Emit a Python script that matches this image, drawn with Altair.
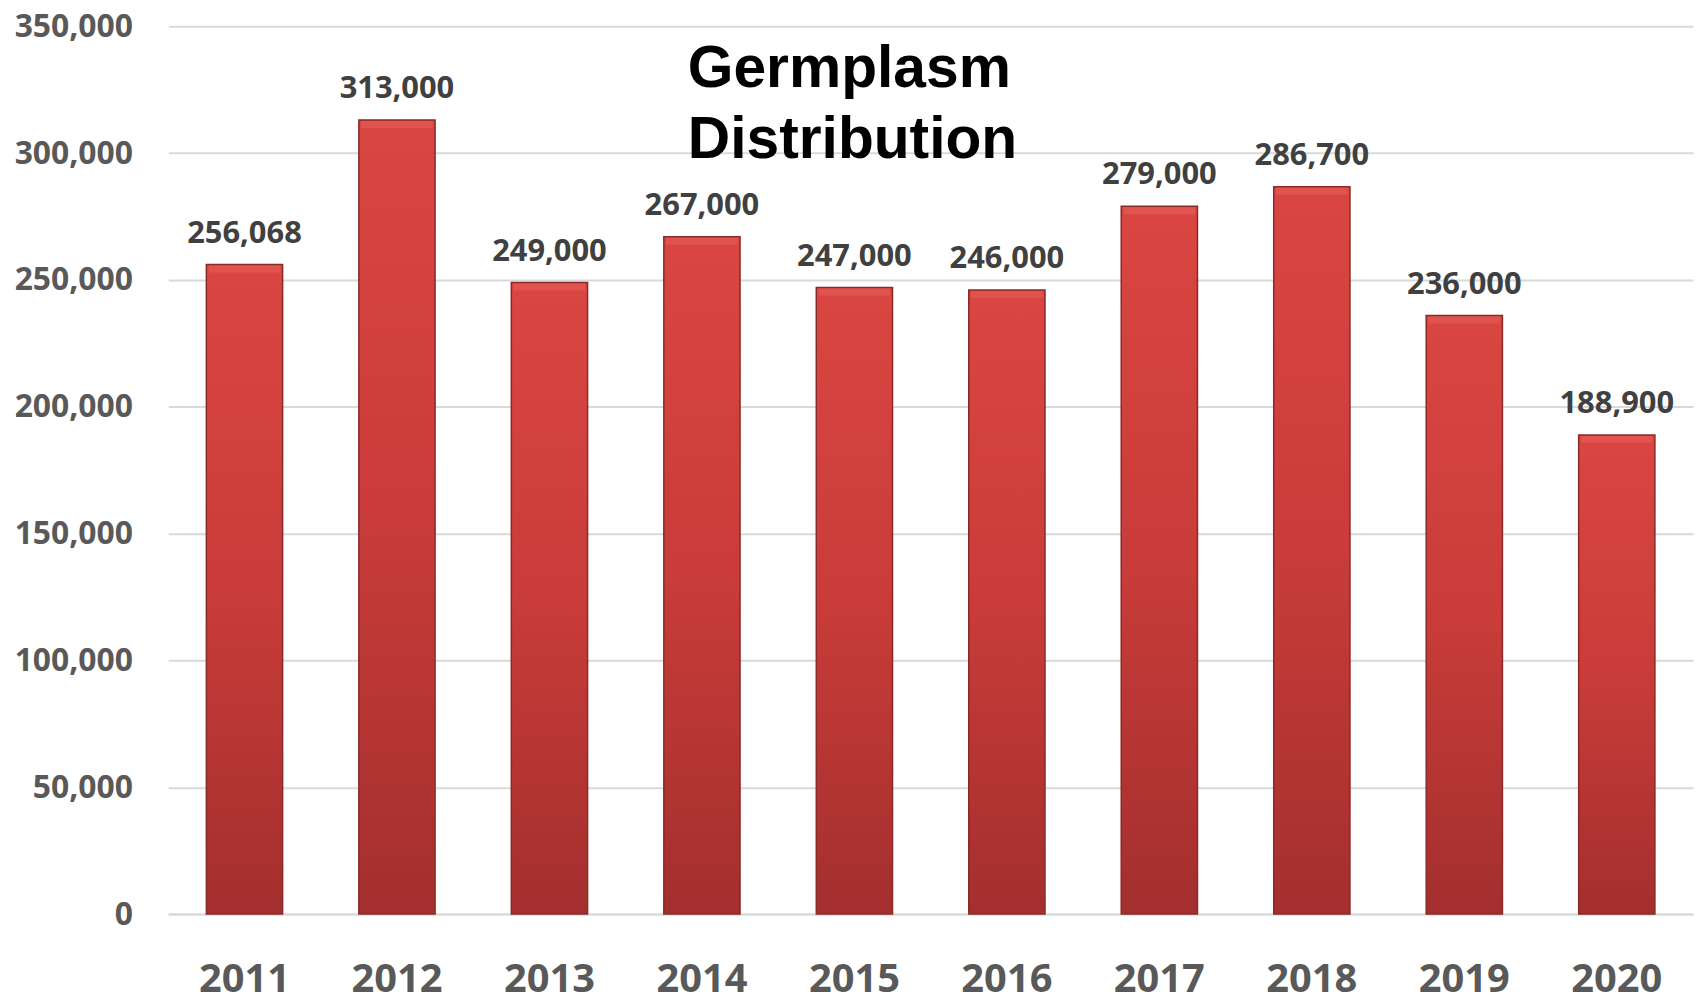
import altair as alt
import pandas as pd

years = ["2011", "2012", "2013", "2014", "2015", "2016", "2017", "2018", "2019", "2020"]
values = [256068, 313000, 249000, 267000, 247000, 246000, 279000, 286700, 236000, 188900]
labels = ["256,068", "313,000", "249,000", "267,000", "247,000", "246,000", "279,000", "286,700", "236,000", "188,900"]
y_ticks = [0, 50000, 100000, 150000, 200000, 250000, 300000, 350000]
title_lines = ["Germplasm", "Distribution"]

df = pd.DataFrame({"year": years, "value": values, "label": labels})

x_enc = alt.X("year:N", sort=years, title=None,
              scale=alt.Scale(paddingInner=0.5, paddingOuter=0.25),
              axis=alt.Axis(labelAngle=0, labelFont="Open Sans", labelFontWeight="bold",
                            labelFontSize=40, labelColor="#595959", labelPadding=46,
                            ticks=False, domainColor="#D9D9D9", domainWidth=2,
                            grid=False))
y_enc = alt.Y("value:Q", title=None,
              scale=alt.Scale(domain=[0, 350000], nice=False),
              axis=alt.Axis(values=y_ticks, format=",d", labelFont="Open Sans",
                            labelFontWeight="bold", labelFontSize=32,
                            labelColor="#595959", labelPadding=36, ticks=False,
                            domain=False, gridColor="#D9D9D9", gridWidth=2))

bars = alt.Chart(df).mark_bar(
    fill=alt.Gradient(gradient="linear",
                      stops=[alt.GradientStop(color="#DA4642", offset=0),
                             alt.GradientStop(color="#C93C39", offset=0.5),
                             alt.GradientStop(color="#A32F2E", offset=1)],
                      x1=0, x2=0, y1=0, y2=1),
    stroke="#8A2A28", strokeWidth=1.5
).encode(x=x_enc, y=y_enc)

bevel = alt.Chart(df).mark_tick(
    color="#E35A56", thickness=7, size=72, yOffset=4.5
).encode(x=alt.X("year:N", sort=years), y="value:Q")

text = alt.Chart(df).mark_text(
    baseline="alphabetic", dy=-22, font="Open Sans", fontWeight="bold",
    fontSize=31, color="#404040"
).encode(x=alt.X("year:N", sort=years), y="value:Q", text="label:N")

title_df = pd.DataFrame({"t": ["\n".join(title_lines)]})
title = alt.Chart(title_df).mark_text(
    align="left", baseline="alphabetic", font="Liberation Sans", fontWeight="bold",
    fontSize=59, color="#000000", lineBreak="\n", lineHeight=71
).encode(x=alt.value(522), y=alt.value(61), text="t:N")

chart = alt.layer(bars, bevel, text, title).properties(
    width=1532, height=892, background="white",
    autosize=alt.AutoSizeParams(type="none"),
    padding={"left": 161, "top": 16, "right": 7, "bottom": 82}
).configure_view(stroke=None)

chart.save("out.html", embed_options={"renderer": "svg", "actions": False})
